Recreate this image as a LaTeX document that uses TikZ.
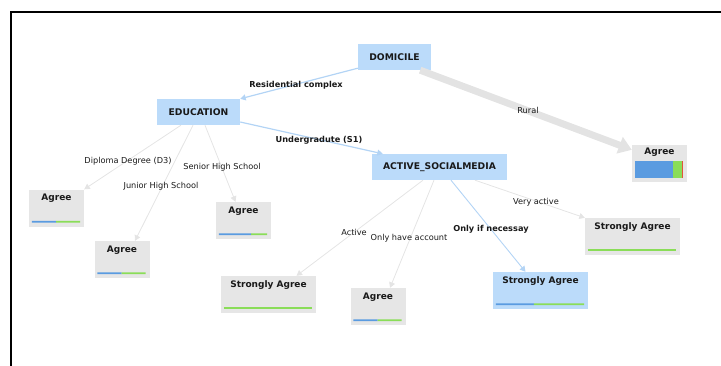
\documentclass[tikz,border=0pt]{standalone}
\usepackage{fontspec}
\setmainfont{DejaVu Sans}
\usetikzlibrary{arrows.meta,calc}

\definecolor{nodeblue}{HTML}{BBDBFA}
\definecolor{leafgray}{HTML}{E6E6E6}
\definecolor{edgeblue}{HTML}{B3D4F5}
\definecolor{edgegray}{HTML}{E4E4E4}
\definecolor{ruralgray}{HTML}{E3E3E3}
\definecolor{barblue}{HTML}{5A9BE0}
\definecolor{bargreen}{HTML}{8ADD58}
\definecolor{barred}{HTML}{E2553A}

\tikzset{
	split/.style={fill=nodeblue, inner sep=0pt, minimum height=26pt, text=black!90,
		font=\fontsize{9.2}{11}\selectfont\bfseries},
	leaf/.style={fill=leafgray, inner sep=0pt, minimum width=55pt, text height=11.3pt,
		text depth=25.7pt, text=black!90, font=\fontsize{9}{11}\selectfont\bfseries},
	wide/.style={minimum width=95pt},
	lbl/.style={inner sep=0pt, text=black!90, font=\fontsize{8.2}{10}\selectfont},
	blbl/.style={lbl, font=\fontsize{8.2}{10}\selectfont\bfseries},
	grayedge/.style={->, draw=edgegray, line width=0.8pt},
	blueedge/.style={->, draw=edgeblue, line width=1.2pt},
}

% thin class bar at the foot of a leaf
\newcommand{\distbar}[2]{%
	\coordinate (#1l) at ([xshift=3pt,yshift=5pt]#1.south west);
	\coordinate (#1r) at ([xshift=-4pt,yshift=5pt]#1.south east);
	\draw[line width=1.6pt,barblue] (#1l) -- ($(#1l)!#2!(#1r)$) coordinate (#1m);
	\draw[line width=1.6pt,bargreen] (#1m) -- (#1r);
}

\begin{document}
\begin{tikzpicture}[x=1pt,y=-1pt,>={Triangle[width=6pt,length=5.5pt]}]
	\useasboundingbox (0,0) rectangle (721,365);
	\draw[line width=2.6pt] (11,366) -- (11,12) -- (722,12);

	\node[split, minimum width=73pt] (dom) at (394.5,57) {DOMICILE};
	\node[split, minimum width=83pt] (edu) at (198.5,112) {EDUCATION};
	\node[split, minimum width=135pt] (asm) at (439.5,167) {ACTIVE\_SOCIALMEDIA};

	\node[leaf] (lfD) at (56.5,208) {Agree};
	\node[leaf] (lfJ) at (122,259.5) {Agree};
	\node[leaf] (lfS) at (243.5,220.5) {Agree};
	\node[leaf, wide] (lfA) at (268.5,294.5) {Strongly Agree};
	\node[leaf] (lfO) at (378,306.5) {Agree};
	\node[leaf, wide, fill=nodeblue] (lfN) at (540.5,290.5) {Strongly Agree};
	\node[leaf, wide] (lfV) at (632.5,236.5) {Strongly Agree};
	\node[leaf, text height=9pt, text depth=28pt] (lfR) at (659.5,163.5) {Agree};

	\distbar{lfD}{0.5}
	\distbar{lfJ}{0.5}
	\distbar{lfS}{0.67}
	\distbar{lfA}{0}
	\distbar{lfO}{0.5}
	\distbar{lfN}{0.43}
	\distbar{lfV}{0}
	\fill[barblue] ([xshift=3pt,yshift=4pt]lfR.south west) rectangle ++(38,-17) coordinate (lfRm);
	\fill[bargreen] (lfRm) rectangle ++(9,17) coordinate (lfRn);
	\fill[barred] (lfRn) rectangle ++(1.2,-17);

	\draw[blueedge] ([yshift=2pt]dom.south west) -- (edu.north east);
	\draw[blueedge] ([yshift=-10pt]edu.east) -- ([xshift=11pt]asm.north west);
	\draw[draw=ruralgray, line width=7pt, -{Triangle[width=17pt,length=13pt]}]
		([xshift=-11pt]dom.south east) -- ([yshift=-5pt]lfR.north west);

	\draw[grayedge] ([xshift=-17.5pt]edu.south) -- (lfD.north east);
	\draw[grayedge] ([xshift=-5.5pt]edu.south) -- ([xshift=13pt]lfJ.north);
	\draw[grayedge] ([xshift=6.5pt]edu.south) -- ([xshift=-8pt]lfS.north);

	\draw[grayedge] ([xshift=-16.5pt]asm.south) -- ([xshift=28pt]lfA.north);
	\draw[grayedge] ([xshift=-5.5pt]asm.south) -- ([xshift=12pt]lfO.north);
	\draw[blueedge, line width=0.9pt] ([xshift=11.5pt]asm.south) -- ([xshift=-15pt]lfN.north);
	\draw[grayedge] ([xshift=35.5pt]asm.south) -- (lfV.north west);

	\node[blbl] (tRes) at (296,85) {Residential complex};
	\node[blbl] (tUnd) at (319,140) {Undergradute (S1)};
	\node[lbl] (tRur) at (528,110) {Rural};
	\node[lbl] (tDip) at (128,161) {Diploma Degree (D3)};
	\node[lbl] (tSen) at (222,167) {Senior High School};
	\node[lbl] (tJun) at (161,186) {Junior High School};
	\node[lbl] (tAct) at (354,232) {Active};
	\node[lbl] (tOnl) at (409,238) {Only have account};
	\node[blbl] (tNec) at (491,229) {Only if necessay};
	\node[lbl] (tVer) at (536,202) {Very active};
\end{tikzpicture}
\end{document}
